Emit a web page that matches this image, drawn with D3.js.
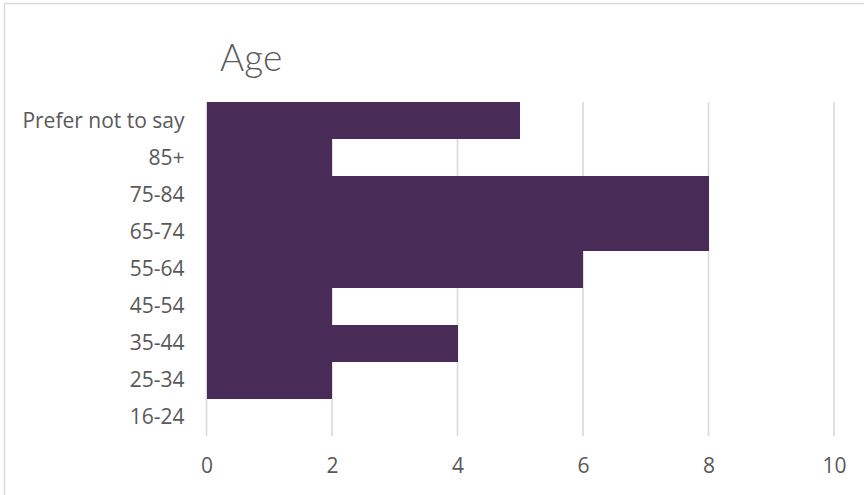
<!DOCTYPE html>
<html>
<head>
<meta charset="utf-8">
<script src="https://cdn.jsdelivr.net/npm/d3@7"></script>
<style>
  html, body { margin: 0; padding: 0; background: #fff; }
  svg { display: block; }
</style>
</head>
<body>
<svg id="chart" width="864" height="495"></svg>
<script>
// Respondents by age group
const categories = ["Prefer not to say", "85+", "75-84", "65-74", "55-64", "45-54", "35-44", "25-34", "16-24"];
const values = [5, 2, 8, 8, 6, 2, 4, 2, 0];
const xTicks = [0, 2, 4, 6, 8, 10];
const title = "Age";

const W = 864, H = 495;
const plot = { top: 102.3, bottom: 436, left: 206.5, right: 834 };
const svg = d3.select("#chart");

// chart frame edges (top and left)
svg.append("line").attr("x1", 4).attr("x2", W).attr("y1", 3.5).attr("y2", 3.5)
  .attr("stroke", "#d9d9d9").attr("stroke-width", 1.3);
svg.append("line").attr("x1", 4.5).attr("x2", 4.5).attr("y1", 3).attr("y2", H)
  .attr("stroke", "#d9d9d9").attr("stroke-width", 1.3);

const x = d3.scaleLinear().domain([0, 10]).range([plot.left, plot.right]);
const y = d3.scaleBand().domain(categories).range([plot.top, plot.bottom]).paddingInner(0).paddingOuter(0);

// vertical gridlines
svg.append("g").selectAll("line").data(xTicks).join("line")
  .attr("x1", d => x(d)).attr("x2", d => x(d))
  .attr("y1", plot.top).attr("y2", plot.bottom)
  .attr("stroke", "#d9d9d9").attr("stroke-width", 1.6);

// bars (no gap between categories)
svg.append("g").attr("shape-rendering", "crispEdges")
  .selectAll("rect").data(categories).join("rect")
  .attr("x", x(0))
  .attr("y", d => Math.round(y(d)))
  .attr("width", (d, i) => x(values[i]) - x(0))
  .attr("height", d => Math.round(y(d) + y.bandwidth()) - Math.round(y(d)))
  .attr("fill", "#482b57");

const font = "'Open Sans', 'Noto Sans', sans-serif";

// category axis
const yAxis = svg.append("g")
  .attr("transform", `translate(${plot.left},0)`)
  .call(d3.axisLeft(y).tickSize(0).tickPadding(22));
yAxis.select(".domain").remove();
yAxis.selectAll("text")
  .attr("font-family", font).attr("font-size", 21).attr("fill", "#595959");

// value axis
const xAxis = svg.append("g")
  .attr("transform", `translate(0,${plot.bottom})`)
  .call(d3.axisBottom(x).tickValues(xTicks).tickSize(0).tickPadding(22));
xAxis.select(".domain").remove();
xAxis.selectAll("text")
  .attr("font-family", font).attr("font-size", 21).attr("fill", "#595959");

// title
svg.append("text")
  .attr("x", 220).attr("y", 71)
  .attr("font-family", "Lato, sans-serif").attr("font-weight", 300).attr("font-size", 37)
  .attr("fill", "#595959")
  .text(title);
</script>
</body>
</html>
